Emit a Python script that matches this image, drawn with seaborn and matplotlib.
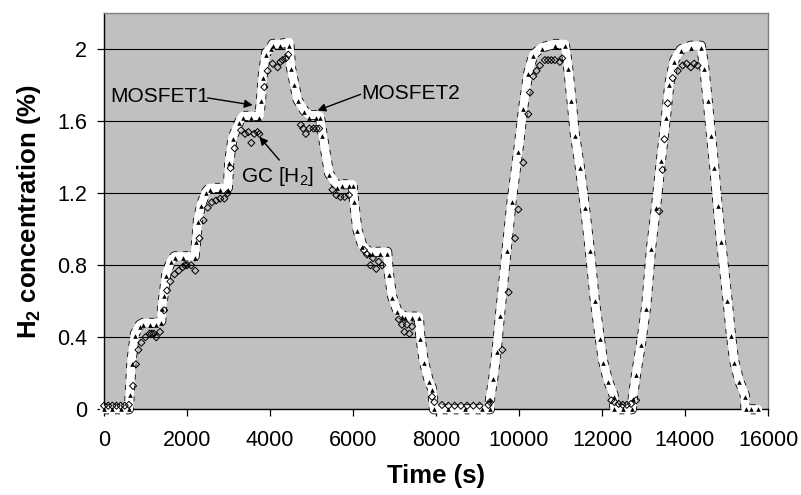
import numpy as np
import pandas as pd
import matplotlib
matplotlib.use("Agg")
import matplotlib.pyplot as plt
import seaborn as sns

# ---------------- data ----------------
mosfet_time = [0, 200, 400, 600,
               620, 664, 744, 864, 944, 1100, 1250, 1380, 1400, 1440, 1504, 1624,
               1704, 1900, 2184, 2224, 2264, 2344, 2464, 2544, 2800, 2984,
               3020, 3100, 3264, 3344, 3550, 3744, 3784, 3824, 3904, 4024,
               4064, 4250, 4464, 4504, 4584, 4664, 4824, 4944, 5100, 5200,
               5264, 5424, 5624, 5744, 5900, 5990, 6024, 6104, 6224, 6384,
               6464, 6650, 6824, 6864, 6944, 7064, 7184, 7264, 7420, 7584,
               7624, 7704, 7824, 7904,
               7950, 8300, 8700, 9100, 9300,
               9304, 9384, 9464, 9544, 9704, 9824, 9984, 10104, 10224, 10344,
               10544, 10864, 11104, 11184, 11264, 11344, 11464, 11584, 11704,
               11824, 11944, 12024, 12144, 12280,
               12300, 12500, 12720,
               12744, 12824, 12944, 13064, 13184, 13304, 13424, 13544, 13624,
               13744, 13904, 14144, 14384, 14464, 14544, 14624, 14704, 14784,
               14864, 15024, 15104, 15184, 15304, 15440,
               15460, 15600, 15760]

mosfet1_conc = [0.0, 0.0, 0.0, 0.0,
                0.09, 0.27, 0.42, 0.47, 0.48, 0.48, 0.48, 0.49, 0.57, 0.64, 0.755, 0.83,
                0.85, 0.85, 0.85, 0.94, 1.05, 1.14, 1.21, 1.23, 1.23, 1.23,
                1.38, 1.51, 1.60, 1.63, 1.63, 1.63, 1.72, 1.85, 1.98, 2.01,
                2.03, 2.03, 2.04, 1.90, 1.81, 1.72, 1.66, 1.635, 1.635, 1.63,
                1.53, 1.31, 1.24, 1.25, 1.25, 1.25, 1.16, 1.00, 0.91, 0.875,
                0.875, 0.875, 0.875, 0.755, 0.626, 0.55, 0.524, 0.515, 0.515, 0.515,
                0.40, 0.27, 0.16, 0.117,
                0.0, 0.0, 0.0, 0.0, 0.0,
                0.06, 0.18, 0.33, 0.53, 0.89, 1.16, 1.44, 1.68, 1.87, 1.97,
                2.01, 2.03, 2.03, 1.90, 1.72, 1.53, 1.35, 1.13, 0.89,
                0.61, 0.40, 0.27, 0.16, 0.08,
                0.0, 0.0, 0.0,
                0.07, 0.20, 0.37, 0.57, 0.90, 1.13, 1.39, 1.63, 1.81,
                1.94, 2.00, 2.02, 2.02, 1.90, 1.72, 1.53, 1.35, 1.14,
                0.94, 0.61, 0.42, 0.27, 0.16, 0.08,
                0.0, 0.0, 0.0]

mosfet2_conc = [0.0, 0.0, 0.0, 0.0,
                0.08, 0.25, 0.41, 0.46, 0.47, 0.47, 0.47, 0.48, 0.56, 0.63, 0.74, 0.82,
                0.84, 0.84, 0.84, 0.93, 1.04, 1.13, 1.20, 1.22, 1.22, 1.22,
                1.37, 1.50, 1.59, 1.62, 1.62, 1.62, 1.71, 1.84, 1.97, 2.00,
                2.02, 2.02, 2.02, 1.89, 1.80, 1.71, 1.65, 1.62, 1.62, 1.62,
                1.52, 1.30, 1.23, 1.24, 1.24, 1.24, 1.15, 0.99, 0.90, 0.865,
                0.865, 0.865, 0.865, 0.745, 0.616, 0.54, 0.514, 0.505, 0.505, 0.505,
                0.39, 0.26, 0.15, 0.11,
                0.0, 0.0, 0.0, 0.0, 0.0,
                0.05, 0.17, 0.32, 0.52, 0.88, 1.15, 1.43, 1.67, 1.86, 1.96,
                2.00, 2.02, 2.02, 1.89, 1.71, 1.52, 1.34, 1.12, 0.88,
                0.60, 0.39, 0.26, 0.15, 0.07,
                0.0, 0.0, 0.0,
                0.06, 0.19, 0.36, 0.56, 0.89, 1.12, 1.38, 1.62, 1.80,
                1.93, 1.99, 2.01, 2.01, 1.89, 1.71, 1.52, 1.34, 1.13,
                0.93, 0.60, 0.41, 0.26, 0.15, 0.07,
                0.0, 0.0, 0.0]

gc_time = [0, 100, 200, 300, 400, 500, 600,
           700, 770, 830, 900, 1000, 1100, 1150, 1200, 1260, 1350, 1450, 1520, 1600,
           1700, 1800, 1900, 1950, 2000, 2100, 2200,
           2300, 2400, 2500, 2600, 2700, 2800, 2900, 2980,
           3050, 3150, 3304, 3400, 3480, 3550, 3620, 3700, 3744,
           3864, 3944, 4064, 4184, 4250, 4304, 4384, 4440,
           4744, 4800, 4864, 4950, 5050, 5120, 5184,
           5504, 5600, 5700, 5800, 5904,
           6264, 6340, 6420, 6480, 6560, 6620, 6704,
           7104, 7180, 7240, 7300, 7360, 7424,
           7904, 7960, 8144, 8300, 8450, 8600, 8750, 8900, 9050, 9264, 9304,
           9600, 9750, 9904, 9984, 10104, 10224, 10264, 10344, 10424, 10504,
           10624, 10700, 10780, 10864, 10984, 11040,
           12224, 12300, 12400, 12500, 12600, 12700, 12824,
           13380, 13460, 13504, 13584, 13704, 13824, 13944, 14040, 14140, 14220, 14304]

gc_conc = [0.02, 0.02, 0.02, 0.02, 0.02, 0.02, 0.025,
           0.13, 0.25, 0.33, 0.37, 0.40, 0.42, 0.42, 0.42, 0.40, 0.43, 0.55, 0.66, 0.71,
           0.75, 0.77, 0.79, 0.80, 0.80, 0.80, 0.77,
           0.95, 1.05, 1.12, 1.15, 1.16, 1.17, 1.17, 1.20,
           1.34, 1.45, 1.55, 1.53, 1.54, 1.48, 1.53, 1.54, 1.53,
           1.79, 1.88, 1.92, 1.90, 1.93, 1.94, 1.95, 1.97,
           1.58, 1.56, 1.53, 1.56, 1.56, 1.56, 1.56,
           1.22, 1.19, 1.18, 1.18, 1.19,
           0.885, 0.86, 0.80, 0.84, 0.78, 0.82, 0.80,
           0.50, 0.47, 0.43, 0.47, 0.42, 0.46,
           0.07, 0.04, 0.024, 0.02, 0.02, 0.02, 0.02, 0.02, 0.02, 0.024, 0.04,
           0.33, 0.65, 0.95, 1.11, 1.37, 1.64, 1.76, 1.85, 1.88, 1.91,
           1.94, 1.94, 1.94, 1.94, 1.93, 1.95,
           0.05, 0.04, 0.03, 0.025, 0.025, 0.03, 0.05,
           1.10, 1.33, 1.50, 1.70, 1.84, 1.88, 1.91, 1.92, 1.90, 1.92, 1.91]

y_ticks = [0, 0.4, 0.8, 1.2, 1.6, 2.0]
y_tick_labels = ["0", "0.4", "0.8", "1.2", "1.6", "2"]
x_ticks = [0, 2000, 4000, 6000, 8000, 10000, 12000, 14000, 16000]

mos = pd.DataFrame({"t": mosfet_time, "m1": mosfet1_conc, "m2": mosfet2_conc})
gc = pd.DataFrame({"t": gc_time, "v": gc_conc})

# ---------------- style ----------------
sns.set_style("white")
plt.rcParams["font.family"] = ["Liberation Sans", "DejaVu Sans"]
plt.rcParams["mathtext.fontset"] = "custom"
plt.rcParams["mathtext.rm"] = "Liberation Sans"
plt.rcParams["mathtext.bf"] = "Liberation Sans:bold"
plt.rcParams["mathtext.default"] = "regular"
plt.rcParams["text.color"] = "black"
plt.rcParams["axes.labelcolor"] = "black"
plt.rcParams["xtick.color"] = "black"
plt.rcParams["ytick.color"] = "black"

fig = plt.figure(figsize=(8.01, 4.95), dpi=100)
ax = fig.add_axes([104 / 801, 1 - 409.3 / 495, 664 / 801, 396 / 495])
ax.set_facecolor("#C0C0C0")

# MOSFET1: thick white band with dotted black border
sns.lineplot(data=mos, x="t", y="m1", ax=ax, color="black", linewidth=7.2,
             sort=False, estimator=None, zorder=3, clip_on=False)
ax.lines[-1].set_linestyle((0, (0.5, 0.6)))
sns.lineplot(data=mos, x="t", y="m1", ax=ax, color="white", linewidth=6.0,
             sort=False, estimator=None, zorder=4, clip_on=False,
             solid_capstyle="round", solid_joinstyle="round")
# MOSFET2: small black triangles
sns.scatterplot(data=mos, x="t", y="m2", ax=ax, marker="^", s=11, color="black",
                linewidth=0, zorder=5, clip_on=False)
# GC: open diamonds
sns.scatterplot(data=gc, x="t", y="v", ax=ax, marker="D", s=13, facecolor="none",
                edgecolor="black", linewidth=0.7, zorder=6, clip_on=False)

ax.set_xlim(0, 16000)
ax.set_ylim(0, 2.2)
ax.set_xticks(x_ticks)
ax.set_xticklabels([str(v) for v in x_ticks])
ax.set_yticks(y_ticks)
ax.set_yticklabels(y_tick_labels)
ax.yaxis.grid(True, color="black", linewidth=0.8)
ax.xaxis.grid(False)
ax.set_axisbelow(True)
ax.tick_params(axis="both", which="major", direction="out", length=5,
               width=0.9, color="black", labelsize=15.5, pad=7,
               labelcolor="black", bottom=True, left=True)
ax.tick_params(axis="x", pad=10)

for side in ["left", "bottom"]:
    ax.spines[side].set_color("black")
    ax.spines[side].set_linewidth(1.0)
for side in ["top", "right"]:
    ax.spines[side].set_color("#808080")
    ax.spines[side].set_linewidth(1.0)

ax.set_xlabel("Time (s)", fontsize=18.5, fontweight="bold", labelpad=9)
ax.set_ylabel(r"$\mathbf{H_2}$ concentration (%)", fontsize=18.5,
              fontweight="bold", labelpad=10)

arrow = dict(arrowstyle="-|>", color="black", lw=1.0, mutation_scale=12,
             shrinkA=0, shrinkB=0)
ax.annotate("MOSFET1", xy=(144, 1.737), fontsize=15, ha="left", va="center",
            zorder=8)
ax.annotate("", xy=(3583, 1.69), xytext=(2496, 1.73), arrowprops=arrow, zorder=8)
ax.annotate("MOSFET2", xy=(6209, 1.756), fontsize=15, ha="left", va="center",
            zorder=8)
ax.annotate("", xy=(5143, 1.66), xytext=(6185, 1.75), arrowprops=arrow, zorder=8)
ax.annotate("GC [H$_2$]", xy=(3305, 1.292), fontsize=15, ha="left", va="center",
            zorder=8)
ax.annotate("", xy=(3744, 1.514), xytext=(4224, 1.385), arrowprops=arrow, zorder=8)

fig.savefig("out.png", dpi=100)
